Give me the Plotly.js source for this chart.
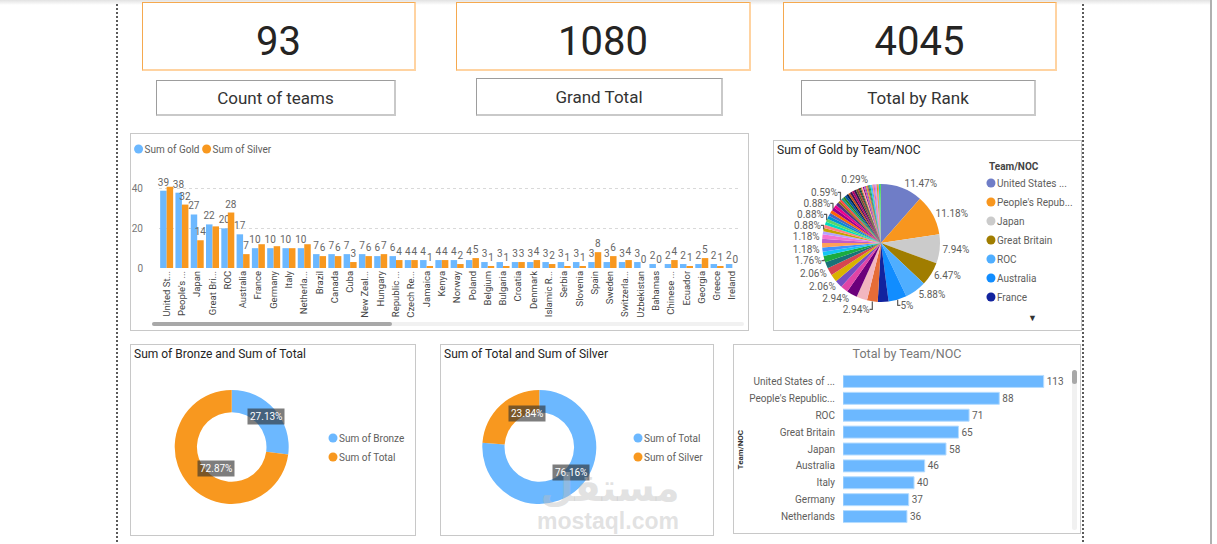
<!DOCTYPE html>
<html>
<head>
<meta charset="utf-8">
<script src="https://cdn.plot.ly/plotly-3.0.1.min.js"></script>
<style>
html,body{margin:0;padding:0;background:#fff;}
body{width:1217px;height:544px;position:relative;overflow:hidden;font-family:Roboto,'Open Sans',sans-serif;}
.a{position:absolute;}
.topshade{left:0;top:0;width:1211px;height:5px;background:linear-gradient(#e2e2e2,#ffffff);}
.vline{top:4px;width:2px;height:540px;background:repeating-linear-gradient(to bottom,#5a5a5a 0 2px,transparent 2px 4px);}
.rline{left:1210px;top:0;width:2px;height:544px;background:#b0b0b0;}
.kpi{position:absolute;box-sizing:border-box;border:1px solid #F5A94F;border-right:2px solid #FFD3A1;border-bottom:2px solid #FFD3A1;background:#fff;}
.kpi span{position:absolute;left:0;right:0;text-align:center;font-size:40px;line-height:40px;color:#252423;}
.lbl{position:absolute;box-sizing:border-box;border:1px solid #9d9d9d;border-right:2px solid #c9c9c9;border-bottom:2px solid #c9c9c9;display:flex;align-items:center;justify-content:center;font-size:17px;color:#333;background:#fff;}
.panel{position:absolute;box-sizing:border-box;border:1px solid #c8c8c8;background:#fff;}
.plot{position:absolute;left:0;top:0;}
.track{position:absolute;background:#f1f1f1;border-radius:3px;}
.thumb{position:absolute;background:#a8a8a8;border-radius:3px;}
.wm{position:absolute;color:rgba(190,190,190,0.45);font-weight:bold;pointer-events:none;text-align:center;}
</style>
</head>
<body>
<div class="a topshade"></div>
<div class="a vline" style="left:116px"></div>
<div class="a vline" style="left:1082px"></div>
<div class="a rline"></div>
<div id="cards"></div>

<div class="panel" style="left:130px;top:133px;width:619px;height:198px;">
  <div id="barChart" class="plot"></div>
  <div class="track" style="left:21px;top:188px;width:592px;height:4px;"></div>
  <div class="thumb" style="left:21px;top:188px;width:240px;height:4px;"></div>
</div>
<div class="panel" style="left:773px;top:140px;width:309px;height:191px;">
  <div id="pieChart" class="plot"></div>
  <div class="a" style="left:254px;top:172px;font-size:9px;color:#333;">▼</div>
</div>
<div class="panel" style="left:130px;top:344px;width:286px;height:192px;">
  <div id="donut1" class="plot"></div>
</div>
<div class="panel" style="left:440px;top:344px;width:274px;height:192px;">
  <div id="donut2" class="plot"></div>
</div>
<div class="panel" style="left:733px;top:344px;width:348px;height:190px;">
  <div id="hbarChart" class="plot"></div>
  <div class="track" style="left:338px;top:25px;width:5px;height:160px;"></div>
  <div class="thumb" style="left:338px;top:25px;width:5px;height:14px;"></div>
</div>
<div class="wm" style="left:530px;top:471px;width:160px;font-size:38px;line-height:34px;height:34px;font-family:'DejaVu Sans',sans-serif;">مستقل</div>
<div class="wm" style="left:520px;top:509px;width:176px;font-size:23px;line-height:24px;height:24px;font-family:'Liberation Sans',Arial,sans-serif;">mostaql.com</div>

<script>
// ---------------- DATA ----------------
const kpiValues = [93, 1080, 4045];
const kpiLabels = ["Count of teams", "Grand Total", "Total by Rank"];

const barTickLabels = ["United St...","People's ...","Japan","Great Bri...","ROC","Australia","France","Germany","Italy","Netherla...","Brazil","Canada","Cuba","New Zeal...","Hungary","Republic ...","Czech Re...","Jamaica","Kenya","Norway","Poland","Belgium","Bulgaria","Croatia","Denmark","Islamic R...","Serbia","Slovenia","Spain","Sweden","Switzerla...","Uzbekistan","Bahamas","Chinese ...","Ecuador","Georgia","Greece","Ireland"];
const barGold   = [39,38,27,22,20,17,10,10,10,10,7,7,7,7,6,6,4,4,4,4,4,3,3,3,3,3,3,3,3,3,3,3,2,2,2,2,2,2];
const barSilver = [41,32,14,21,28,7,12,11,10,12,6,6,3,6,7,4,4,1,4,2,5,1,1,3,4,2,1,1,8,6,4,0,0,4,1,5,1,0];

const pieTeams = ["United States of America","People's Republic of China","Japan","Great Britain","ROC","Australia","France","Germany","Italy","Netherlands","Brazil","Canada","Cuba","New Zealand","Hungary","Republic of Korea","Czech Republic","Jamaica","Kenya","Norway","Poland","Belgium","Bulgaria","Croatia","Denmark","Islamic Republic of Iran","Serbia","Slovenia","Spain","Sweden","Switzerland","Uzbekistan","Bahamas","Chinese Taipei","Ecuador","Georgia","Greece","Ireland","Israel","Kosovo","Qatar","Turkey","Uganda","Austria","Belarus","Bermuda","Egypt","Estonia","Ethiopia","Fiji","Hong Kong, China","India","Indonesia","Latvia","Morocco","Philippines","Portugal","Puerto Rico","Romania","Slovakia","South Africa","Thailand","Tunisia","Ukraine","Venezuela"];
const pieGold = [39,38,27,22,20,17,10,10,10,10,7,7,7,7,6,6,4,4,4,4,4,3,3,3,3,3,3,3,3,3,3,3,2,2,2,2,2,2,2,2,2,2,2,1,1,1,1,1,1,1,1,1,1,1,1,1,1,1,1,1,1,1,1,1,1];
const pieLabeledSlices = [0,1,2,3,4,5,7,9,11,13,15,17,20,22,25,29,33,55];
const pieLegendVisible = 7;

const hbarLabels = ["United States of ...","People's Republic...","ROC","Great Britain","Japan","Australia","Italy","Germany","Netherlands"];
const hbarTotals = [113,88,71,65,58,46,40,37,36];

const donut1Labels = ["Sum of Bronze","Sum of Total"];
const donut1Values = [402,1080];
const donut2Labels = ["Sum of Total","Sum of Silver"];
const donut2Values = [1080,338];

// ---------------- STYLE ----------------
const FONT = "Roboto, 'Open Sans', sans-serif";
const BLUE = '#6CB8FF', ORANGE = '#F8981F';
const TXT = '#605E5C';
const pieColors = ['#6F7DC7','#F8961E','#CBCBCB','#A07D00','#4FAEFF','#118DFF','#12239E','#E66C37','#F2B6BF','#6B007B','#E044A7','#744EC2','#D9B300','#D64550','#197278','#1AAB40','#15C6F4','#4092FF','#FFA058','#BE5DC9','#F472D0','#B5A1FF','#C4A200','#FF8080','#00DBBC','#5BD667','#0091D5','#4668C5','#FF6300','#99008A','#EC008C','#533285','#99700A','#FF4141','#1F9A85','#25891C','#0057A2','#002050','#C94F0F','#450F54','#B60064','#34124F','#6A5A29','#BA141A','#0C3D37','#0B511F'];
const cfg = {displayModeBar:false, staticPlot:true};

// ---------------- KPI CARDS ----------------
const cardBoxes = [[142,2,274,69],[456,2,295,69],[783,2,274,69]];
const lblBoxes = [[156,80,240,36],[476,78,247,38],[801,80,235,36]];
const cards = document.getElementById('cards');
kpiValues.forEach((v,i)=>{
  const c = document.createElement('div'); c.className='kpi';
  const b = cardBoxes[i];
  c.style.cssText = `left:${b[0]}px;top:${b[1]}px;width:${b[2]}px;height:${b[3]}px;`;
  const s = document.createElement('span'); s.style.top='19px'; s.textContent = String(v);
  c.appendChild(s); cards.appendChild(c);
  const l = document.createElement('div'); l.className='lbl';
  const lb = lblBoxes[i];
  l.style.cssText = `left:${lb[0]}px;top:${lb[1]}px;width:${lb[2]}px;height:${lb[3]}px;`;
  l.textContent = kpiLabels[i]; cards.appendChild(l);
});

function roundLegend(gd, shift){
  gd.querySelectorAll('.legendpoints path').forEach(p=>{
    const r=4.5, c=shift;
    p.setAttribute('d',`M${c+r},0A${r},${r} 0 1,1 ${c-r},0A${r},${r} 0 1,1 ${c+r},0Z`);
  });
}

// ---------------- BAR CHART ----------------
const silverText = barSilver.map((s,i)=> (barGold[i]>=10 && Math.abs(barGold[i]-s)<5) ? '' : String(s));
const barCommon = {type:'bar', textposition:'outside', cliponaxis:false, constraintext:'none', textangle:0,
  outsidetextfont:{family:FONT,size:10,color:'#666'}, hoverinfo:'skip'};
const barLegendBase = {orientation:'h', xref:'paper', yref:'paper', y:1.2247, xanchor:'left', yanchor:'top',
  font:{family:FONT,size:10,color:TXT}, bgcolor:'rgba(0,0,0,0)'};
Plotly.newPlot('barChart', [
  Object.assign({}, barCommon, {name:'Sum of Gold', legend:'legend', x:barTickLabels, y:barGold, text:barGold.map(String), marker:{color:BLUE}}),
  Object.assign({}, barCommon, {name:'Sum of Silver', legend:'legend2', x:barTickLabels, y:barSilver, text:silverText, marker:{color:ORANGE}})
], {
  width:617, height:196, margin:{l:28.4, r:8, t:25.4, b:62, autoexpand:false},
  paper_bgcolor:'rgba(0,0,0,0)', plot_bgcolor:'rgba(0,0,0,0)',
  barmode:'group', bargap:0.15, bargroupgap:0,
  font:{family:FONT, color:TXT},
  showlegend:true,
  legend:Object.assign({}, barLegendBase, {x:(-26-28.4)/580.6}),
  legend2:Object.assign({}, barLegendBase, {x:(42-28.4)/580.6}),
  xaxis:{type:'category', tickangle:-90, tickfont:{family:FONT,size:9.5,color:'#444'}, showgrid:false, zeroline:false, showline:false, ticks:'', fixedrange:true},
  yaxis:{range:[0,55], tickvals:[0,20,40], showgrid:true, gridcolor:'#d9d9d9', griddash:'dot', zeroline:false, showline:false,
    ticks:'outside', ticklen:13, tickcolor:'rgba(0,0,0,0)', tickfont:{family:FONT,size:10,color:'#777'}}
}, cfg).then(gd=>roundLegend(gd,14));

// ---------------- PIE CHART ----------------
const goldSum = pieGold.reduce((a,b)=>a+b,0);
const pieText = pieGold.map((v,i)=> pieLabeledSlices.includes(i) ? (parseFloat((v/goldSum*100).toFixed(2)))+'%' : '');
const pieNames = pieTeams.map(n=> n.length>14 ? n.slice(0,14)+'...' : n);
const pieSliceColors = pieGold.map((v,i)=> pieColors[i < pieColors.length ? i : 7 + ((i - pieColors.length) % (pieColors.length-7))]);
Plotly.newPlot('pieChart', [{
  type:'pie', labels:pieNames, values:pieGold, sort:false, direction:'clockwise', rotation:0,
  marker:{colors:pieSliceColors, line:{width:0}},
  text:pieText, textinfo:'text', textposition:'outside', automargin:false,
  outsidetextfont:{family:FONT,size:10,color:TXT},
  domain:{x:[0.1564,0.5407], y:[0.148,0.772]}, hoverinfo:'skip'
}], {
  width:307, height:189, margin:{l:0,r:0,t:0,b:0,autoexpand:false},
  paper_bgcolor:'rgba(0,0,0,0)',
  title:{text:'Sum of Gold by Team/NOC', font:{family:FONT,size:12,color:'#252423'}, xref:'container', yref:'container', x:0.01, xanchor:'left', y:0.952, yanchor:'middle'},
  showlegend:true,
  legend:{xref:'container', yref:'container', x:0.596, y:0.8545, xanchor:'left', yanchor:'top', maxheight:140,
    font:{family:FONT,size:10,color:TXT}, bgcolor:'rgba(0,0,0,0)'},
  annotations:[{xref:'paper', yref:'paper', x:213/307, y:1-25/189, xanchor:'left', yanchor:'middle', showarrow:false,
    text:'<b>Team/NOC</b>', font:{family:FONT,size:10,color:'#444'}}]
}, cfg).then(gd=>{
  roundLegend(gd,14);
  // the legend box only shows its first entries (the rest sit behind the scroll arrow)
  gd.querySelectorAll('.legend .traces').forEach((g,i)=>{ if(i >= pieLegendVisible) g.remove(); });
  gd.querySelectorAll('.legend .scrollbar').forEach(s=>s.remove());
});

// ---------------- DONUTS ----------------
function donutAnnots(values, cx, cy, rMid, W, H){
  const total = values.reduce((a,b)=>a+b,0);
  let cum = 0;
  return values.map(v=>{
    const mid = (cum + v/2)/total*2*Math.PI; cum += v;
    const x = cx + rMid*Math.sin(mid), y = cy - rMid*Math.cos(mid);
    return {xref:'paper', yref:'paper', x:x/W, y:1-y/H, showarrow:false,
      text:(v/total*100).toFixed(2)+'%', bgcolor:'rgba(45,45,45,0.62)', borderpad:2,
      font:{family:FONT,size:10,color:'#fff'}};
  });
}
function donut(id, labels, values, colors, title, W, H, cx, legendX){
  const cy = 102, r = 57;
  Plotly.newPlot(id, [{
    type:'pie', labels:labels, values:values, hole:0.61, sort:false, direction:'clockwise', rotation:0,
    marker:{colors:colors, line:{width:0}}, textinfo:'none', hoverinfo:'skip',
    domain:{x:[(cx-r)/W,(cx+r)/W], y:[(H-cy-r)/H,(H-cy+r)/H]}
  }], {
    width:W, height:H, margin:{l:0,r:0,t:0,b:0,autoexpand:false}, paper_bgcolor:'rgba(0,0,0,0)',
    title:{text:title, font:{family:FONT,size:12,color:'#252423'}, xref:'container', yref:'container', x:3/W, xanchor:'left', y:1-8.5/H, yanchor:'middle'},
    showlegend:true,
    legend:{xref:'container', yref:'container', x:legendX/W, y:1-78.5/H, xanchor:'left', yanchor:'top',
      font:{family:FONT,size:10,color:TXT}, bgcolor:'rgba(0,0,0,0)'},
    annotations: donutAnnots(values, cx, cy, (r + r*0.61)/2, W, H)
  }, cfg).then(gd=>roundLegend(gd,14));
}
donut('donut1', donut1Labels, donut1Values, [BLUE, ORANGE], 'Sum of Bronze and Sum of Total', 284, 190, 100.7, 168);
donut('donut2', donut2Labels, donut2Values, [BLUE, ORANGE], 'Sum of Total and Sum of Silver', 272, 190, 98.3, 163);

// ---------------- HORIZONTAL BAR ----------------
Plotly.newPlot('hbarChart', [{
  type:'bar', orientation:'h', x:hbarTotals, y:hbarLabels, text:hbarTotals.map(String), textposition:'outside',
  cliponaxis:false, constraintext:'none', outsidetextfont:{family:FONT,size:10,color:TXT},
  marker:{color:BLUE, line:{color:'#b5dcff', width:1}}, hoverinfo:'skip'
}], {
  width:346, height:188, margin:{l:108.7, r:15, t:27.9, b:8.1, autoexpand:false},
  paper_bgcolor:'rgba(0,0,0,0)', plot_bgcolor:'rgba(0,0,0,0)', bargap:0.29, showlegend:false,
  title:{text:'Total by Team/NOC', font:{family:FONT,size:12.5,color:'#777'}, xref:'container', yref:'container', x:0.5, xanchor:'center', y:1-8.5/188, yanchor:'middle'},
  xaxis:{range:[0,125], visible:false, fixedrange:true},
  yaxis:{type:'category', autorange:'reversed', showgrid:false, zeroline:false, showline:false,
    ticks:'outside', ticklen:5, tickcolor:'rgba(0,0,0,0)', tickfont:{family:FONT,size:10,color:TXT}},
  annotations:[{xref:'paper', yref:'paper', x:(740-842.7)/222.3, y:0.5, textangle:-90, showarrow:false, xanchor:'center', yanchor:'middle',
    text:'<b>Team/NOC</b>', font:{family:FONT,size:8,color:'#333'}}]
}, cfg);
</script>
</body>
</html>
